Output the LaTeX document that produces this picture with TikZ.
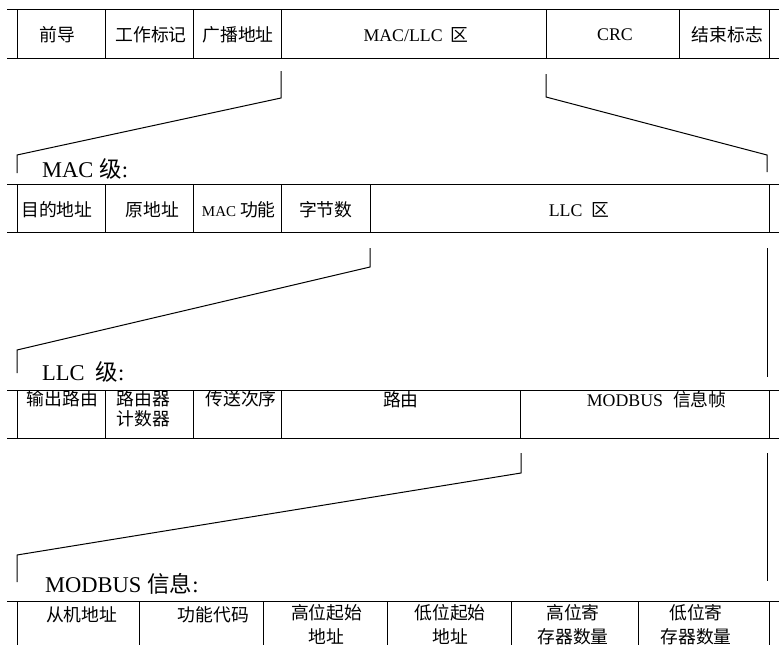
\documentclass[tikz,border=0pt]{standalone}
\usepackage{fontspec}
\setmainfont{Liberation Serif}
\newfontfamily\cjk{Noto Sans CJK SC}
\newcommand{\myzh}[1]{{\cjk #1}}
\begin{document}
\begin{tikzpicture}[x=1pt,y=-1pt,
  rule/.style={line width=1pt,black},
  link/.style={line width=1pt,black,line join=miter},
  txt/.style={inner sep=0pt,anchor=center,align=center,font=\fontsize{17.8}{20}\selectfont},
  txttall/.style={txt,font=\fontsize{17.8}{24}\selectfont},
  lbl/.style={inner sep=0pt,anchor=west,font=\fontsize{22.5}{26}\selectfont}]
\useasboundingbox (0,0) rectangle (779,645);

% ---------- row 1: frame ----------
\draw[rule] (7,9) -- (779,9);
\draw[rule] (7,58) -- (779,58);
\foreach \x in {17,105,193,281,546,679,769} \draw[rule] (\x,9) -- (\x,58);
\node[txt] (f1) at (57,35) {\myzh{前导}};
\node[txt] (f2) at (151,35) {\myzh{工作标记}};
\node[txt] (f3) at (238,35) {\myzh{广播地址}};
\node[txt] (f4) at (416,35) {MAC/LLC\hspace{8pt}\myzh{区}};
\node[txt] (f5) at (615,35) {CRC};
\node[txt] (f6) at (727.5,35) {\myzh{结束标志}};

% ---------- connector 1 ----------
\coordinate (a1) at (281,71);
\coordinate (a2) at (281,98);
\coordinate (a3) at (17,155);
\coordinate (a4) at (17,173);
\coordinate (b1) at (546,74);
\coordinate (b2) at (546,97);
\coordinate (b3) at (767,155);
\coordinate (b4) at (767,172);
\draw[link] (a1) -- (a2) -- (a3) -- (a4);
\draw[link] (b1) -- (b2) -- (b3) -- (b4);

% ---------- row 2: MAC ----------
\node[lbl] (macl) at (42,169) {MAC\hspace{6pt}\myzh{级}:};
\draw[rule] (7,184) -- (779,184);
\draw[rule] (7,232) -- (779,232);
\foreach \x in {17,105,193,281,370,769} \draw[rule] (\x,184) -- (\x,232);
\node[txt] (m1) at (57,210) {\myzh{目的地址}};
\node[txt] (m2) at (152.5,210) {\myzh{原地址}};
\node[txt] (m3) at (238.8,210) {{\fontsize{15}{18}\selectfont MAC}\hspace{4pt}\myzh{功能}};
\node[txt] (m4) at (325.8,210) {\myzh{字节数}};
\node[txt] (m5) at (579,210) {LLC\hspace{9pt}\myzh{区}};

% ---------- connector 2 ----------
\coordinate (c1) at (370,248);
\coordinate (c2) at (370,267);
\coordinate (c3) at (17,350);
\coordinate (c4) at (17,373);
\coordinate (d1) at (767,248);
\coordinate (d2) at (767,377);
\draw[link] (c1) -- (c2) -- (c3) -- (c4);
\draw[link] (d1) -- (d2);

% ---------- row 3: LLC ----------
\node[lbl] (llcl) at (42,371.7) {LLC\hspace{11pt}\myzh{级}:};
\draw[rule] (7,390) -- (779,390);
\draw[rule] (7,438) -- (779,438);
\foreach \x in {17,105,193,281,520,769} \draw[rule] (\x,390) -- (\x,438);
\node[txt] (l1) at (62.5,399) {\myzh{输出路由}};
\node[txt] (l2) at (143.3,408.8) {\myzh{路由器}\\\myzh{计数器}};
\node[txt] (l3) at (241,399) {\myzh{传送次序}};
\node[txt] (l4) at (400.8,399.5) {\myzh{路由}};
\node[txt] (l5) at (656.7,400) {MODBUS\hspace{10pt}\myzh{信息帧}};

% ---------- connector 3 ----------
\coordinate (e1) at (521,453);
\coordinate (e2) at (521,473);
\coordinate (e3) at (17,555);
\coordinate (e4) at (17,582);
\coordinate (g1) at (767,453);
\coordinate (g2) at (767,581);
\draw[link] (e1) -- (e2) -- (e3) -- (e4);
\draw[link] (g1) -- (g2);

% ---------- row 4: MODBUS ----------
\node[lbl] (mbl) at (45,584) {MODBUS\hspace{6pt}\myzh{信息}:};
\draw[rule] (7,601) -- (779,601);
\foreach \x in {17,139,263,387,511,638,769} \draw[rule] (\x,601) -- (\x,645);
\node[txt] (p1) at (81.7,614.5) {\myzh{从机地址}};
\node[txt] (p2) at (213.3,614.5) {\myzh{功能代码}};
\node[txttall] (p3) at (326.7,624.5) {\myzh{高位起始}\\\myzh{地址}};
\node[txttall] (p4) at (450,624.5) {\myzh{低位起始}\\\myzh{地址}};
\node[txttall] (p5) at (573,624.5) {\myzh{高位寄}\\\myzh{存器数量}};
\node[txttall] (p6) at (696,624.5) {\myzh{低位寄}\\\myzh{存器数量}};
\end{tikzpicture}
\end{document}
